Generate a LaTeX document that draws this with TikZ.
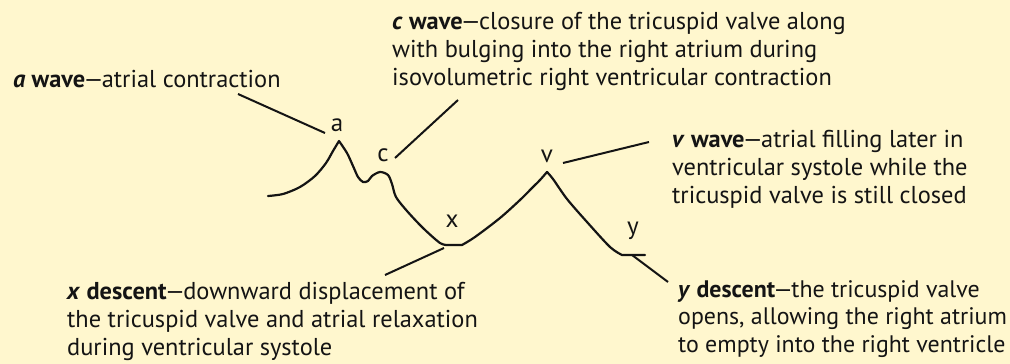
\documentclass[tikz,border=0pt]{standalone}
\usepackage{fontspec}
\setmainfont{PT Sans}
\definecolor{bg}{RGB}{255,247,206}
\definecolor{ink}{RGB}{20,20,20}
\newcommand{\dsh}{\kern-0.07em---\kern-0.07em}
\begin{document}
\begin{tikzpicture}[x=1pt,y=-1pt,
  txt/.style={anchor=west,align=left,inner sep=0pt,text=ink,font=\fontsize{24.4}{28}\selectfont},
  lbl/.style={inner sep=0pt,text=ink,font=\fontsize{25}{28}\selectfont},
  wave/.style={draw=ink,line width=2.2pt,line join=round,line cap=round},
  leader/.style={draw=ink,line width=2pt}]
\fill[bg] (0,0) rectangle (1010,364);
\useasboundingbox (0,0) rectangle (1010,364);
% texts
\node[txt] (ta) at (13,79) {\textbf{\textit{a} wave}\dsh atrial contraction};
\node[txt] (tc) at (392,51) {\textbf{\textit{c} wave}\dsh closure of the tricuspid valve along\\with bulging into the right atrium during\\isovolumetric right ventricular contraction};
\node[txt] (tv) at (672,169) {\textbf{\textit{v} wave}\dsh atrial filling later in\\ventricular systole while the\\tricuspid valve is still closed};
\node[txt] (tx) at (67,321) {\textbf{\textit{x} descent}\dsh downward displacement of\\the tricuspid valve and atrial relaxation\\during ventricular systole};
\node[txt,font=\fontsize{23.9}{27.5}\selectfont] (ty) at (678,319) {\textbf{\textit{y} descent}\dsh the tricuspid valve\\opens, allowing the right atrium\\to empty into the right ventricle};
% wave labels
\node[lbl] (la) at (337,125) {a};
\node[lbl] (lc) at (383,155) {c};
\node[lbl] (lx) at (452,221) {x};
\node[lbl] (lv) at (547,156) {v};
\node[lbl] (ly) at (633,231) {y};
% leader ends
\coordinate (a1) at (238,94); \coordinate (a2) at (325,133);
\coordinate (c1) at (458,100); \coordinate (c2) at (395,158);
\coordinate (v1) at (649,142); \coordinate (v2) at (563,163);
\coordinate (x1) at (385,275); \coordinate (x2) at (444,248);
\coordinate (y1) at (668,282); \coordinate (y2) at (632,255);
\draw[leader] (a1) -- (a2);
\draw[leader] (c1) -- (c2);
\draw[leader] (v1) -- (v2);
\draw[leader] (x1) -- (x2);
\draw[leader] (y1) -- (y2);
% pressure wave
\draw[wave] plot[smooth,tension=0.5] coordinates {(268,196) (283,194) (300,187) (315,176) (326,163) (333,151) (339,141)}
  -- plot[smooth,tension=0.5] coordinates {(339,141) (347,153) (353,166) (358,177) (363,182) (368,181) (372,176) (380,172) (388,175) (392,184) (396,197) (407,211) (423,228) (440,243) (448,245)}
  -- (462,245)
  -- plot[smooth,tension=0.5] coordinates {(462,245) (475,237) (500,218) (520,200) (532,188) (540,180) (547,172)}
  -- plot[smooth,tension=0.5] coordinates {(547,172) (553,179) (567,199) (587,222) (610,247) (622,255)}
  -- (645,255);
\end{tikzpicture}
\end{document}
